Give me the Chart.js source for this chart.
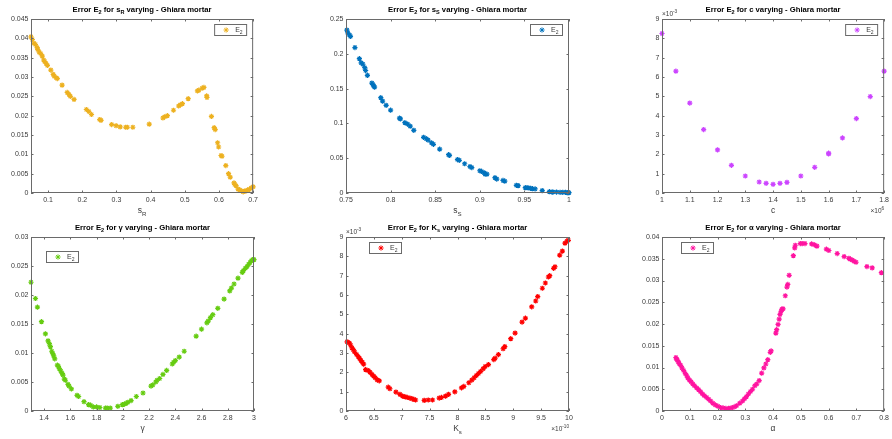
<!DOCTYPE html>
<html>
<head>
<meta charset="utf-8">
<script src="https://cdn.jsdelivr.net/npm/chart.js@4.4.1/dist/chart.umd.min.js"></script>
<style>
  html,body{margin:0;padding:0;background:#fff;width:892px;height:439px;overflow:hidden;}
  canvas{position:absolute;}
</style>
</head>
<body>
<script>
// Fehler E2 fuer sechs Parameter - Ghiara mortar

// s_R
var SR_X = [0.050,0.054,0.059,0.063,0.068,0.070,0.074,0.078,0.083,0.087,0.090,0.094,0.098,0.108,0.115,0.118,0.124,0.127,0.141,0.156,0.161,0.165,0.176,0.212,0.219,0.227,0.251,0.255,0.286,0.299,0.311,0.327,0.332,0.348,0.396,0.436,0.441,0.449,0.467,0.482,0.487,0.493,0.510,0.537,0.541,0.551,0.556,0.564,0.565,0.578,0.586,0.589,0.596,0.599,0.606,0.609,0.620,0.628,0.633,0.644,0.646,0.650,0.656,0.661,0.667,0.671,0.675,0.679,0.684,0.689,0.694,0.700];
var SR_Y = [0.0404,0.0397,0.0387,0.0384,0.0376,0.0371,0.0364,0.0361,0.0354,0.0344,0.0340,0.0335,0.0330,0.0318,0.0307,0.0302,0.0298,0.0296,0.0279,0.0260,0.0255,0.0250,0.0242,0.0216,0.0211,0.0203,0.0190,0.0188,0.0177,0.0174,0.0171,0.0170,0.0170,0.0170,0.0178,0.0194,0.0197,0.0200,0.0214,0.0225,0.0228,0.0231,0.0244,0.0264,0.0266,0.0271,0.0273,0.0251,0.0247,0.0198,0.0169,0.0164,0.0130,0.0119,0.0097,0.0095,0.0071,0.0050,0.0041,0.0026,0.0022,0.0019,0.0010,0.0008,0.0005,0.0003,0.0005,0.0005,0.0008,0.0009,0.0013,0.0016];
var SR_XT = [0.1,0.2,0.3,0.4,0.5,0.6,0.7];
var SR_YT = [0,0.005,0.01,0.015,0.02,0.025,0.03,0.035,0.04,0.045];

// s_S
var SS_X = [0.751,0.752,0.754,0.755,0.760,0.765,0.767,0.769,0.771,0.772,0.774,0.779,0.780,0.781,0.782,0.789,0.791,0.795,0.800,0.810,0.811,0.816,0.819,0.822,0.826,0.837,0.840,0.842,0.846,0.848,0.855,0.865,0.866,0.875,0.877,0.883,0.889,0.891,0.900,0.902,0.905,0.906,0.908,0.917,0.919,0.926,0.928,0.941,0.943,0.951,0.953,0.955,0.957,0.959,0.962,0.970,0.978,0.981,0.982,0.986,0.990,0.993,0.996,0.998,0.999,1.000];
var SS_Y = [0.234,0.230,0.227,0.225,0.209,0.193,0.187,0.185,0.180,0.176,0.169,0.158,0.156,0.154,0.152,0.137,0.132,0.126,0.119,0.1075,0.1065,0.101,0.099,0.096,0.090,0.080,0.078,0.076,0.072,0.070,0.063,0.055,0.054,0.048,0.047,0.042,0.038,0.0365,0.032,0.031,0.029,0.027,0.027,0.022,0.020,0.018,0.017,0.011,0.0106,0.0077,0.0077,0.0072,0.0067,0.0062,0.0058,0.0034,0.0019,0.0014,0.0014,0.0014,0.0010,0.0010,0.0010,0.0005,0.0005,0.0005];
var SS_XT = [0.75,0.8,0.85,0.9,0.95,1];
var SS_YT = [0,0.05,0.1,0.15,0.2,0.25];

// c (x in 10^6, y in 10^-3)
var C_X = [1.00,1.05,1.10,1.15,1.20,1.25,1.30,1.35,1.375,1.40,1.425,1.45,1.50,1.55,1.60,1.60,1.65,1.70,1.75,1.80];
var C_Y = [8.25,6.30,4.65,3.28,2.23,1.43,0.88,0.57,0.50,0.45,0.50,0.55,0.88,1.33,2.02,2.06,2.85,3.85,4.99,6.30];
var C_XT = [1,1.1,1.2,1.3,1.4,1.5,1.6,1.7,1.8];
var C_YT = [0,1,2,3,4,5,6,7,8,9];

// gamma
var G_X = [1.300,1.334,1.349,1.380,1.410,1.430,1.440,1.448,1.458,1.466,1.473,1.481,1.501,1.509,1.516,1.527,1.537,1.544,1.554,1.562,1.582,1.590,1.608,1.651,1.663,1.704,1.739,1.754,1.775,1.800,1.825,1.868,1.881,1.904,1.962,1.997,2.013,2.025,2.038,2.063,2.103,2.154,2.215,2.228,2.251,2.261,2.281,2.306,2.334,2.377,2.387,2.400,2.430,2.468,2.559,2.600,2.641,2.651,2.668,2.686,2.724,2.772,2.815,2.828,2.848,2.878,2.911,2.919,2.934,2.947,2.959,2.970,2.980,2.990,3.000];
var G_Y = [0.0222,0.0194,0.0179,0.0154,0.0133,0.0121,0.0116,0.0111,0.0103,0.0099,0.0095,0.0090,0.0079,0.0077,0.0073,0.0069,0.0065,0.0062,0.0055,0.0053,0.0046,0.0043,0.0038,0.0027,0.0025,0.0016,0.0011,0.0010,0.0007,0.0007,0.0006,0.0005,0.0005,0.0005,0.0008,0.0011,0.0012,0.0013,0.0015,0.0018,0.0025,0.0031,0.0043,0.0045,0.0050,0.0053,0.0056,0.0063,0.0070,0.0081,0.0084,0.0087,0.0093,0.0103,0.0129,0.0141,0.0152,0.0155,0.0161,0.0166,0.0177,0.0193,0.0207,0.0212,0.0219,0.0229,0.0239,0.0242,0.0246,0.0249,0.0253,0.0256,0.0259,0.0261,0.0261];
var G_XT = [1.4,1.6,1.8,2,2.2,2.4,2.6,2.8,3];
var G_YT = [0,0.005,0.01,0.015,0.02,0.025,0.03];

// K_s (x in 10^-10, y in 10^-3)
var K_X = [6.020,6.060,6.084,6.107,6.131,6.155,6.191,6.221,6.245,6.269,6.293,6.316,6.352,6.400,6.430,6.466,6.496,6.525,6.561,6.597,6.758,6.788,6.896,6.967,7.015,7.057,7.099,7.146,7.188,7.218,7.248,7.403,7.475,7.552,7.672,7.713,7.785,7.839,7.952,8.072,8.113,8.203,8.257,8.299,8.340,8.376,8.412,8.460,8.496,8.555,8.651,8.675,8.734,8.818,8.848,8.955,9.033,9.158,9.218,9.331,9.403,9.439,9.522,9.576,9.630,9.654,9.725,9.749,9.833,9.881,9.928,9.964,9.988];
var K_Y = [3.58,3.52,3.40,3.26,3.17,3.05,2.92,2.81,2.71,2.61,2.52,2.42,2.14,2.09,2.01,1.89,1.80,1.72,1.61,1.56,1.23,1.15,0.98,0.86,0.77,0.74,0.70,0.67,0.63,0.60,0.57,0.55,0.57,0.57,0.67,0.70,0.77,0.86,0.99,1.20,1.27,1.46,1.60,1.72,1.84,1.94,2.04,2.18,2.30,2.40,2.66,2.73,2.92,3.22,3.33,3.74,4.03,4.60,4.80,5.39,5.69,5.92,6.35,6.62,6.93,7.00,7.38,7.46,8.06,8.27,8.68,8.78,8.83];
var K_XT = [6,6.5,7,7.5,8,8.5,9,9.5,10];
var K_YT = [0,1,2,3,4,5,6,7,8,9];

// alpha
var A_X = [0.050,0.052,0.055,0.059,0.062,0.067,0.072,0.078,0.084,0.089,0.093,0.099,0.105,0.111,0.117,0.125,0.132,0.139,0.146,0.153,0.161,0.168,0.175,0.183,0.192,0.201,0.211,0.220,0.230,0.240,0.249,0.259,0.268,0.280,0.290,0.297,0.304,0.311,0.319,0.326,0.334,0.341,0.350,0.359,0.367,0.374,0.381,0.390,0.393,0.410,0.413,0.418,0.422,0.425,0.429,0.432,0.436,0.444,0.450,0.453,0.458,0.473,0.478,0.480,0.498,0.505,0.515,0.539,0.549,0.558,0.592,0.601,0.631,0.656,0.673,0.678,0.685,0.692,0.699,0.738,0.757,0.790];
var A_Y = [0.0123,0.0120,0.0117,0.0113,0.0109,0.0105,0.0099,0.0093,0.0086,0.0081,0.0076,0.0071,0.0067,0.0062,0.0058,0.0053,0.0049,0.0044,0.0039,0.0035,0.0031,0.0027,0.0023,0.0018,0.0014,0.0011,0.0008,0.0007,0.0006,0.0006,0.0007,0.0009,0.0012,0.0018,0.0023,0.0028,0.0033,0.0039,0.0045,0.0050,0.0058,0.0062,0.0070,0.0087,0.0099,0.0108,0.0118,0.0135,0.0138,0.0179,0.0187,0.0199,0.0211,0.0222,0.0229,0.0234,0.0235,0.0265,0.0285,0.0291,0.0312,0.0357,0.0375,0.0381,0.0385,0.0385,0.0385,0.0384,0.0382,0.0379,0.0372,0.0369,0.0362,0.0355,0.0351,0.0349,0.0347,0.0344,0.0342,0.0332,0.0329,0.0318];
var A_XT = [0,0.1,0.2,0.3,0.4,0.5,0.6,0.7,0.8];
var A_YT = [0,0.005,0.01,0.015,0.02,0.025,0.03,0.035,0.04];

var FONT = "'Liberation Sans', Arial, Helvetica, sans-serif";
var TICK_COLOR = "#3a3a3a", AXIS_COLOR = "#6a6a6a";
var COL_LEFT = [31, 346, 662], ROW_TOP = [19, 237];
var PW = 223, PH = 174, ML = 31, MT = 19, MR = 7, MB = 26, TICK = 2.5;

var PANELS = [
  { x:SR_X, y:SR_Y, xt:SR_XT, yt:SR_YT, xr:[0.05,0.7], yr:[0,0.045], color:"#EDB120", col:0, row:0,
    title:[["Error E",0],["2",-1],[" for s",0],["R",-1],[" varying - Ghiara mortar",0]], xlabel:[["s",0],["R",-1]], legend:{right:6, top:5} },
  { x:SS_X, y:SS_Y, xt:SS_XT, yt:SS_YT, xr:[0.75,1], yr:[0,0.25], color:"#0072BD", col:1, row:0,
    title:[["Error E",0],["2",-1],[" for s",0],["S",-1],[" varying - Ghiara mortar",0]], xlabel:[["s",0],["S",-1]], legend:{right:6, top:5} },
  { x:C_X, y:C_Y, xt:C_XT, yt:C_YT, xr:[1,1.8], yr:[0,9], color:"#CC44FF", col:2, row:0,
    title:[["Error E",0],["2",-1],[" for c varying - Ghiara mortar",0]], xlabel:[["c",0]], legend:{right:6, top:5},
    xexp:[["\u00d710",0],["6",1]], yexp:[["\u00d710",0],["-3",1]] },
  { x:G_X, y:G_Y, xt:G_XT, yt:G_YT, xr:[1.3,3], yr:[0,0.03], color:"#66CC11", col:0, row:1,
    title:[["Error E",0],["2",-1],[" for \u03b3 varying - Ghiara mortar",0]], xlabel:[["\u03b3",0]], legend:{left:15, top:14} },
  { x:K_X, y:K_Y, xt:K_XT, yt:K_YT, xr:[6,10], yr:[0,9], color:"#FF0000", col:1, row:1,
    title:[["Error E",0],["2",-1],[" for K",0],["s",-1],[" varying - Ghiara mortar",0]], xlabel:[["K",0],["s",-1]], legend:{left:23, top:5},
    xexp:[["\u00d710",0],["-10",1]], yexp:[["\u00d710",0],["-3",1]] },
  { x:A_X, y:A_Y, xt:A_XT, yt:A_YT, xr:[0,0.8], yr:[0,0.04], color:"#FF14A0", col:2, row:1,
    title:[["Error E",0],["2",-1],[" for \u03b1 varying - Ghiara mortar",0]], xlabel:[["\u03b1",0]], legend:{left:19, top:5} }
];

function fontStr(size, bold){ return (bold ? "bold " : "") + size + "px " + FONT; }
function fmt(v){ return String(Math.round(v*10000)/10000); }

// Text mit Tief-/Hochstellung: segs = [[text, -1|0|1], ...]
function richText(ctx, segs, x, y, size, bold, align){
  var small = size*0.72, w = 0;
  segs.forEach(function(s){ ctx.font = fontStr(s[1] ? small : size, bold); w += ctx.measureText(s[0]).width; });
  var cx = align==="center" ? x - w/2 : (align==="right" ? x - w : x);
  ctx.textAlign = "left"; ctx.textBaseline = "alphabetic";
  segs.forEach(function(s){
    ctx.font = fontStr(s[1] ? small : size, bold);
    var dy = s[1] < 0 ? size*0.32 : (s[1] > 0 ? -size*0.45 : 0);
    ctx.fillText(s[0], cx, y + dy);
    cx += ctx.measureText(s[0]).width;
  });
}

function makeDeco(p){
  return {
    id: "deco",
    afterDatasetsDraw: function(chart){
      var ctx = chart.ctx, a = chart.chartArea, sx = chart.scales.x, sy = chart.scales.y;
      ctx.save();
      // Rahmen + Ticks nach innen
      ctx.strokeStyle = AXIS_COLOR; ctx.lineWidth = 1;
      ctx.beginPath();
      sx.ticks.forEach(function(t){
        var px = Math.round(sx.getPixelForValue(t.value)) + 0.5;
        ctx.moveTo(px, a.bottom); ctx.lineTo(px, a.bottom - TICK);
        ctx.moveTo(px, a.top); ctx.lineTo(px, a.top + TICK);
      });
      sy.ticks.forEach(function(t){
        var py = Math.round(sy.getPixelForValue(t.value)) + 0.5;
        ctx.moveTo(a.left, py); ctx.lineTo(a.left + TICK, py);
        ctx.moveTo(a.right, py); ctx.lineTo(a.right - TICK, py);
      });
      ctx.stroke();
      ctx.strokeRect(a.left + 0.5, a.top + 0.5, a.right - a.left - 1, a.bottom - a.top - 1);

      // Titel, Achsenbeschriftung
      ctx.fillStyle = "#000";
      richText(ctx, p.title, (a.left + a.right)/2, a.top - 7, 7.7, true, "center");
      ctx.fillStyle = TICK_COLOR;
      richText(ctx, p.xlabel, (a.left + a.right)/2, a.bottom + 20, 8.5, false, "center");
      if (p.yexp) richText(ctx, p.yexp, a.left, a.top - 3, 6.5, false, "left");
      if (p.xexp) richText(ctx, p.xexp, a.right, a.bottom + 20, 6.5, false, "right");

      // Legende
      var lg = p.legend, bw = 33, bh = 12;
      var bx = lg.right != null ? a.right - lg.right - bw : a.left + lg.left;
      var by = a.top + lg.top;
      ctx.fillStyle = "#fff"; ctx.fillRect(bx, by, bw, bh);
      ctx.strokeStyle = AXIS_COLOR; ctx.lineWidth = 1;
      ctx.strokeRect(bx + 0.5, by + 0.5, bw - 1, bh - 1);
      ctx.strokeStyle = p.color; ctx.fillStyle = p.color;
      Chart.helpers.drawPoint(ctx, { pointStyle:"star", radius:2.6, borderWidth:1.2 }, bx + 12, by + bh/2);
      ctx.fillStyle = TICK_COLOR;
      richText(ctx, [["E",0],["2",-1]], bx + 21, by + bh/2 + 2, 7, false, "left");
      ctx.restore();
    }
  };
}

PANELS.forEach(function(p){
  var cv = document.createElement("canvas");
  var w = ML + PW + MR, h = MT + PH + MB;
  cv.width = w; cv.height = h;
  cv.style.left = (COL_LEFT[p.col] - ML) + "px";
  cv.style.top = (ROW_TOP[p.row] - MT) + "px";
  cv.style.width = w + "px"; cv.style.height = h + "px";
  document.body.appendChild(cv);

  var pts = p.x.map(function(v, i){ return { x:v, y:p.y[i] }; });
  var tickFont = { family:FONT, size:7 };

  new Chart(cv, {
    type: "scatter",
    data: { datasets: [{ data:pts, pointStyle:"star", pointRadius:2.6, pointHoverRadius:2.6,
      borderColor:p.color, backgroundColor:p.color, borderWidth:1.2, showLine:false, clip:false }] },
    options: {
      responsive:false, animation:false, events:[],
      layout:{ padding:{ top:MT, right:MR, left:0, bottom:0 } },
      plugins:{ legend:{ display:false }, tooltip:{ enabled:false } },
      scales:{
        x:{ type:"linear", min:p.xr[0], max:p.xr[1],
            afterBuildTicks:function(s){ s.ticks = p.xt.map(function(v){ return { value:v }; }); },
            afterFit:function(s){ s.height = MB; },
            grid:{ display:false, drawTicks:false }, border:{ display:false },
            ticks:{ font:tickFont, color:TICK_COLOR, padding:3, maxRotation:0, autoSkip:false, callback:fmt } },
        y:{ type:"linear", min:p.yr[0], max:p.yr[1],
            afterBuildTicks:function(s){ s.ticks = p.yt.map(function(v){ return { value:v }; }); },
            afterFit:function(s){ s.width = ML; },
            grid:{ display:false, drawTicks:false }, border:{ display:false },
            ticks:{ font:tickFont, color:TICK_COLOR, padding:2.5, autoSkip:false, callback:fmt } }
      }
    },
    plugins:[ makeDeco(p) ]
  });
});
</script>
</body>
</html>
